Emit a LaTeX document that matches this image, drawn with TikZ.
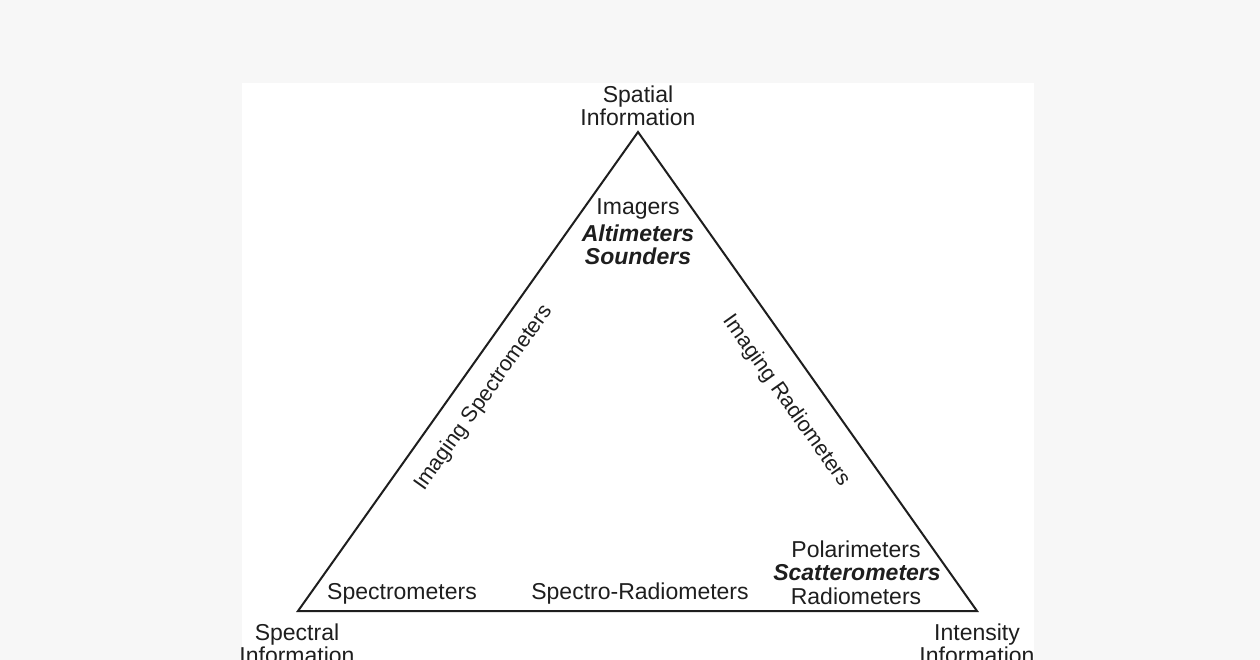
\documentclass[tikz,border=0pt]{standalone}
\usepackage{fontspec}
\setmainfont{Liberation Sans}
\definecolor{bggray}{RGB}{247,247,247}
\definecolor{inkgray}{RGB}{30,30,30}
\tikzset{
    label/.style={font=\fontsize{23}{23}\selectfont, text=inkgray, inner sep=0pt, align=center},
    bold/.style={label, font=\fontsize{23}{23}\selectfont\bfseries\itshape},
    side/.style={label, font=\fontsize{21.5}{22}\selectfont}
}
\begin{document}
\begin{tikzpicture}[x=1pt, y=-1pt]
        %background
        \useasboundingbox (0,0) rectangle (1260,660);
        \fill [bggray] (0,0) rectangle (1260,660);
        \fill [white] (242,83) rectangle (1034,660);
        
        %corners
        \coordinate (top) at (638,132);
        \coordinate (left) at (298,611);
        \coordinate (right) at (977,611);
        
        %triangle
        \draw [inkgray, line width=2pt, line join=miter] (top) -- (left) -- (right) -- cycle;
        
        \node [label] (spatial) at (638,106) {Spatial\\Information};
        \node [label] (spectral) at (297,644) {Spectral\\Information};
        \node [label] (intensity) at (977,644) {Intensity\\Information};
        
        \node [label] (imagers) at (638,209) {Imagers};
        \node [bold] (altimeters) at (638,233) {Altimeters};
        \node [bold] (sounders) at (638,256) {Sounders};
        
        \node [label] (polari) at (856,549) {Polarimeters};
        \node [bold] (scattero) at (857,573) {Scatterometers};
        \node [label] (radio) at (856,596) {Radiometers};
        
        \node [label] (spectro) at (402,594) {Spectrometers};
        \node [label] (spectroradio) at (640,594) {Spectro-Radiometers};
        
        % wzdluz bokow
        \node [side, rotate=54.6] (imgspectro) at (484,398) {Imaging Spectrometers};
        \node [side, rotate=-54.7] (imgradio) at (786,401) {Imaging Radiometers};
    \end{tikzpicture}
\end{document}
